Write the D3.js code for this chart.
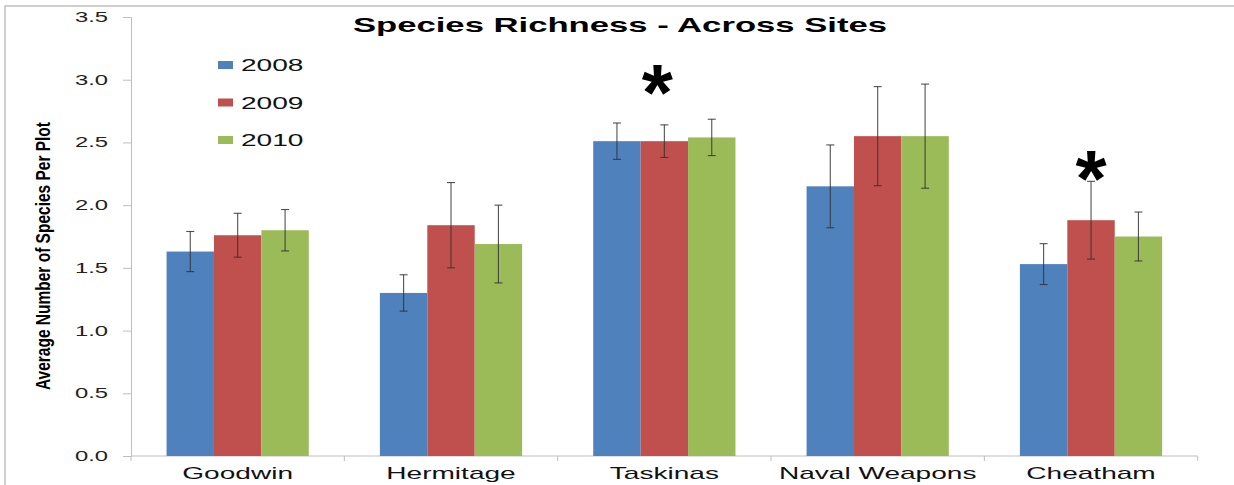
<!DOCTYPE html>
<html>
<head>
<meta charset="utf-8">
<script src="https://cdn.jsdelivr.net/npm/d3@7"></script>
<style>
  body { margin: 0; background: #fff; }
  text { font-family: "Liberation Sans", Arial, sans-serif; }
</style>
</head>
<body>
<div class="chart"></div>
<script>
// data
var sites = ["Goodwin", "Hermitage", "Taskinas", "Naval Weapons", "Cheatham"];
var years = ["2008", "2009", "2010"];
var v2008 = [1.63, 1.30, 2.51, 2.15, 1.53];
var v2009 = [1.76, 1.84, 2.51, 2.55, 1.88];
var v2010 = [1.80, 1.69, 2.54, 2.55, 1.75];
var e2008 = [0.16, 0.145, 0.145, 0.33, 0.163];
var e2009 = [0.175, 0.34, 0.13, 0.395, 0.31];
var e2010 = [0.165, 0.31, 0.145, 0.415, 0.195];
var yTicks = [0, 0.5, 1.0, 1.5, 2.0, 2.5, 3.0, 3.5];
var starSites = ["Taskinas", "Cheatham"];
var starLevel = [3.0, 2.31];

var colors = ["#4F81BD", "#C0504D", "#9BBB59"];
var values = [v2008, v2009, v2010];
var errors = [e2008, e2009, e2010];
var starNudge = [-7, 0]; // the stars are not quite centred in the original

var svgWidth = 1234;
var svgHeight = 485;
var SX = 1.65; // text in the picture is stretched sideways

var svg = d3.select(".chart")
  .append("svg")
  .attr("width", svgWidth)
  .attr("height", svgHeight);

// stretch text the way the original image is
function stretch(sel, k) {
  sel.each(function () {
    var len = this.getComputedTextLength();
    d3.select(this)
      .attr("textLength", len * k)
      .attr("lengthAdjust", "spacingAndGlyphs");
  });
}

// frame
svg.append("path")
  .attr("d", "M5,485V6H1234")
  .attr("fill", "none")
  .attr("stroke", "#c0c0c0")
  .attr("stroke-width", 1.5);

var x = d3.scaleBand()
  .domain(sites)
  .range([131, 1197.7])
  .paddingInner(1 / 3)
  .paddingOuter(1 / 6);

var xYear = d3.scaleBand()
  .domain(years)
  .range([0, x.bandwidth()]);

var y = d3.scaleLinear()
  .domain([0, 3.5])
  .range([456, 17]);

// y axis
var yAxis = svg.append("g")
  .attr("transform", "translate(131,0)")
  .call(d3.axisLeft(y).tickValues(yTicks).tickFormat(d3.format(".1f")).tickSize(8).tickPadding(15));
yAxis.select(".domain").attr("stroke", "#bfbfbf");
yAxis.selectAll(".tick line").attr("stroke", "#bfbfbf");
yAxis.selectAll(".tick text")
  .attr("font-size", "14px")
  .attr("font-family", "Liberation Sans, Arial, sans-serif")
  .attr("fill", "#222")
  .call(stretch, 1.7);

// x axis line and boundary ticks
var x0 = x.range()[0], x1 = x.range()[1];
svg.append("line")
  .attr("x1", x0).attr("x2", x1)
  .attr("y1", y(0)).attr("y2", y(0))
  .attr("stroke", "#bfbfbf");
svg.selectAll(".xtick")
  .data(d3.range(sites.length + 1))
  .enter()
  .append("line")
  .attr("x1", i => x0 + i * x.step())
  .attr("x2", i => x0 + i * x.step())
  .attr("y1", y(0))
  .attr("y2", y(0) + 5)
  .attr("stroke", "#bfbfbf");

svg.selectAll(".xlabel")
  .data(sites)
  .enter()
  .append("text")
  .attr("x", d => x(d) + x.bandwidth() / 2)
  .attr("y", 479)
  .attr("text-anchor", "middle")
  .attr("font-size", "17px")
  .attr("fill", "#111")
  .text(d => d)
  .call(stretch, SX);

// bars
years.forEach(function (yr, k) {
  var g = svg.append("g");
  g.selectAll("rect")
    .data(sites)
    .enter()
    .append("rect")
    .attr("x", d => x(d) + xYear(yr))
    .attr("y", (d, i) => y(values[k][i]))
    .attr("width", xYear.bandwidth())
    .attr("height", (d, i) => y(0) - y(values[k][i]))
    .attr("fill", colors[k]);

  // error bars
  var eg = g.selectAll(".err")
    .data(sites)
    .enter()
    .append("g")
    .attr("stroke", "#333")
    .attr("stroke-opacity", 0.85)
    .attr("stroke-width", 1.1);
  var cx = d => x(d) + xYear(yr) + xYear.bandwidth() / 2;
  eg.append("line")
    .attr("x1", cx).attr("x2", cx)
    .attr("y1", (d, i) => y(values[k][i] + errors[k][i]))
    .attr("y2", (d, i) => y(values[k][i] - errors[k][i]));
  eg.append("line")
    .attr("x1", d => cx(d) - 4).attr("x2", d => cx(d) + 4)
    .attr("y1", (d, i) => y(values[k][i] + errors[k][i]))
    .attr("y2", (d, i) => y(values[k][i] + errors[k][i]));
  eg.append("line")
    .attr("x1", d => cx(d) - 4).attr("x2", d => cx(d) + 4)
    .attr("y1", (d, i) => y(values[k][i] - errors[k][i]))
    .attr("y2", (d, i) => y(values[k][i] - errors[k][i]));
});

// significance stars
svg.selectAll(".star")
  .data(starSites)
  .enter()
  .append("text")
  .attr("x", (d, i) => x(d) + xYear("2009") + xYear.bandwidth() / 2 + starNudge[i])
  .attr("y", (d, i) => y(starLevel[i]) + 40)
  .attr("text-anchor", "middle")
  .attr("font-size", "80px")
  .attr("font-weight", "bold")
  .attr("fill", "#000")
  .text("*");

// title
svg.append("text")
  .attr("x", 620)
  .attr("y", 32)
  .attr("text-anchor", "middle")
  .attr("font-size", "21px")
  .attr("font-weight", "bold")
  .text("Species Richness  -  Across Sites")
  .call(stretch, SX);

// legend
var legend = svg.selectAll(".legend")
  .data(years)
  .enter()
  .append("g")
  .attr("transform", (d, i) => `translate(218, ${65 + i * 37.5})`);
legend.append("rect")
  .attr("x", 0).attr("y", -4)
  .attr("width", 15).attr("height", 8)
  .attr("fill", (d, i) => colors[i]);
legend.append("text")
  .attr("x", 23).attr("y", 6)
  .attr("font-size", "17px")
  .attr("fill", "#111")
  .text(d => d)
  .call(stretch, SX);

// y axis title
svg.append("text")
  .attr("transform", "translate(50,256) rotate(-90)")
  .attr("text-anchor", "middle")
  .attr("font-family", "'Liberation Sans Narrow', 'Arial Narrow', sans-serif")
  .attr("font-size", "21px")
  .attr("font-weight", "bold")
  .attr("textLength", 268)
  .attr("lengthAdjust", "spacingAndGlyphs")
  .text("Average Number of Species Per Plot");
</script>
</body>
</html>
